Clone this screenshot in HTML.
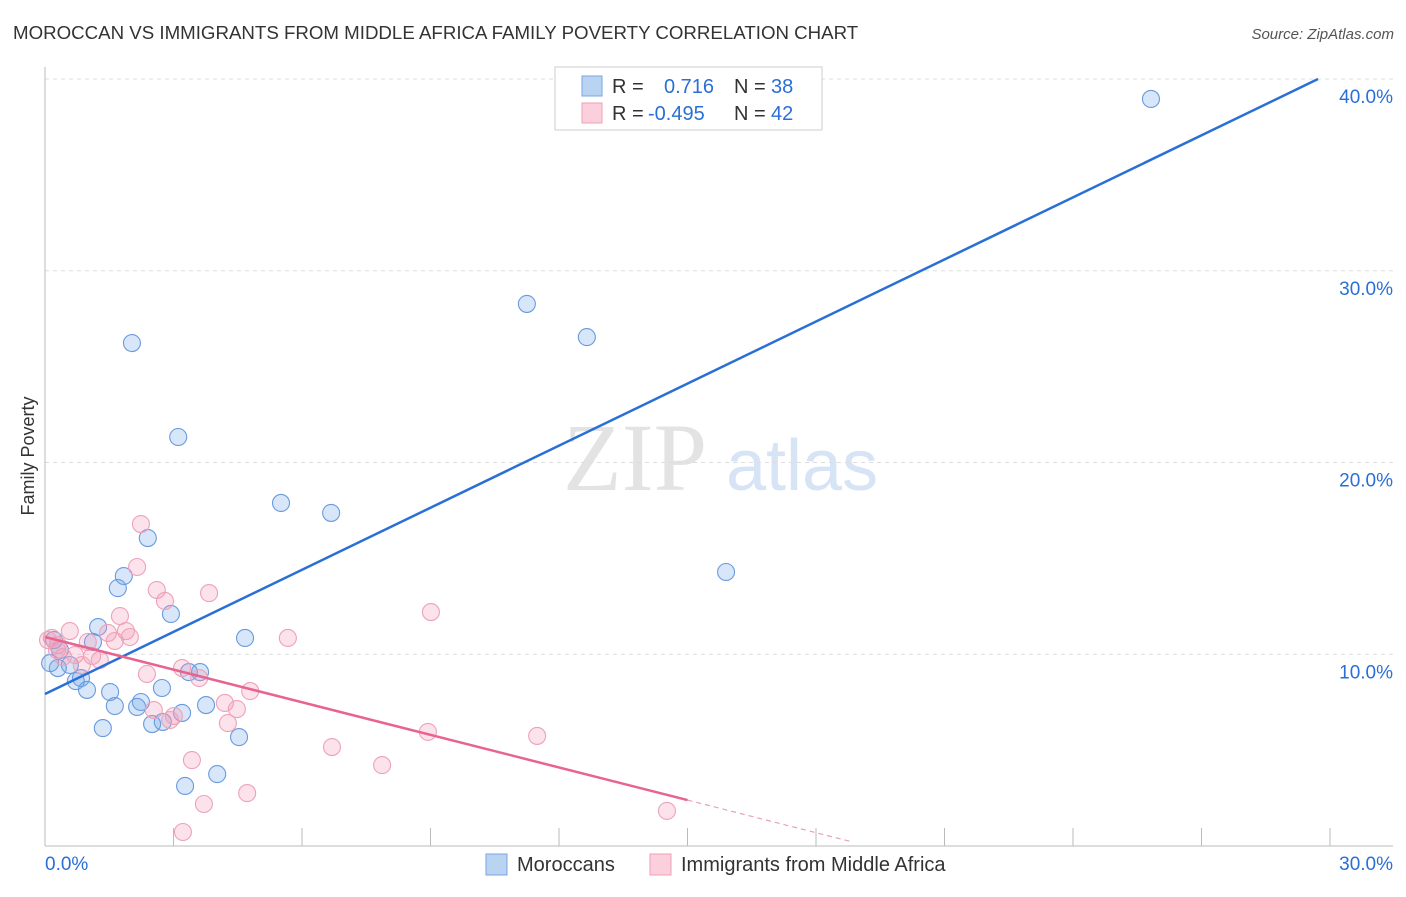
<!DOCTYPE html>
<html><head><meta charset="utf-8"><style>
body{margin:0;background:#fff;font-family:"Liberation Sans",sans-serif;}
</style></head><body>
<svg id="chart" width="1406" height="892" xmlns="http://www.w3.org/2000/svg" font-family="Liberation Sans, sans-serif">
<text x="13" y="39" font-size="18.7" fill="#333">MOROCCAN VS IMMIGRANTS FROM MIDDLE AFRICA FAMILY POVERTY CORRELATION CHART</text>
<text x="1394" y="39" font-size="15" fill="#555" text-anchor="end" font-style="italic">Source: ZipAtlas.com</text>
<text transform="translate(34,456) rotate(-90)" font-size="18" fill="#333" text-anchor="middle">Family Poverty</text>
<g>
<text x="635" y="490" font-size="96" fill="#e3e3e3" font-family="Liberation Serif, serif" text-anchor="middle">ZIP</text>
<text x="802" y="490" font-size="72" fill="#d6e4f5" text-anchor="middle">atlas</text>
</g>
<g id="grid"></g>
<g id="axes"></g>
<g id="marks"></g>
<g>
<rect x="555" y="67" width="267" height="63" fill="#fff" stroke="#ccc"/>
<rect x="582" y="76" width="20" height="20" fill="#b9d3f3" stroke="#7aa6e0"/>
<rect x="582" y="103" width="20" height="20" fill="#fbd0dc" stroke="#ef9fb8"/>
<text x="612" y="93" font-size="20" fill="#333">R =</text>
<text x="664" y="93" font-size="20" fill="#2a6fd6">0.716</text>
<text x="734" y="93" font-size="20" fill="#333">N =</text>
<text x="771" y="93" font-size="20" fill="#2a6fd6">38</text>
<text x="612" y="120" font-size="20" fill="#333">R =</text>
<text x="648" y="120" font-size="20" fill="#2a6fd6">-0.495</text>
<text x="734" y="120" font-size="20" fill="#333">N =</text>
<text x="771" y="120" font-size="20" fill="#2a6fd6">42</text>
</g>
<g>
<rect x="486" y="854" width="21" height="21" fill="#b9d3f3" stroke="#7aa6e0"/>
<text x="517" y="871" font-size="20" fill="#333">Moroccans</text>
<rect x="650" y="854" width="21" height="21" fill="#fbd0dc" stroke="#ef9fb8"/>
<text x="681" y="871" font-size="20" fill="#333">Immigrants from Middle Africa</text>
</g>
</svg>
<script>
const xTicks=[0,3,6,9,12,15,18,21,24,27,30];
const yTicks=[10,20,30,40];
const yTickLabels=["10.0%","20.0%","30.0%","40.0%"];
const xLabels=["0.0%","30.0%"];
const blueX=[25.82,11.25,12.65,2.03,3.11,5.51,6.68,2.40,15.90,1.84,1.70,2.94,1.24,4.67,1.12,0.21,0.35,0.58,0.30,0.12,0.84,0.72,0.98,1.52,2.73,3.62,3.36,2.24,1.63,2.15,3.76,3.20,2.50,2.75,1.35,4.53,4.02,3.27];
const blueY=[38.96,28.27,26.54,26.23,21.33,17.89,17.37,16.06,14.29,14.08,13.45,12.10,11.42,10.85,10.64,10.74,10.22,9.44,9.28,9.54,8.76,8.60,8.14,8.03,8.24,9.07,9.07,7.51,7.30,7.25,7.35,6.94,6.36,6.47,6.15,5.68,3.75,3.13];
const pinkX=[2.24,2.15,2.61,3.83,2.80,1.75,9.01,0.58,1.47,1.89,5.67,1.98,1.00,1.63,0.16,0.30,0.70,1.10,0.42,1.28,0.86,2.38,3.20,3.60,4.79,4.20,2.54,3.01,4.48,2.92,4.27,8.94,11.49,6.70,3.43,7.87,4.72,3.71,14.52,3.22,0.07,0.28];
const pinkY=[16.79,14.55,13.35,13.19,12.78,11.99,12.20,11.21,11.11,11.21,10.85,10.90,10.64,10.69,10.85,10.48,9.96,9.91,9.86,9.70,9.44,8.97,9.28,8.76,8.08,7.46,7.09,6.78,7.14,6.57,6.41,5.95,5.74,5.16,4.48,4.22,2.76,2.19,1.83,0.73,10.74,10.22];
const blueLine=[7.93,1.079];
const pinkLine=[10.90,-0.567];
const NS="http://www.w3.org/2000/svg";
const X=v=>45+v/30*1285, Y=v=>846-v/40*767;
function mk(p,t,a){const e=document.createElementNS(NS,t);for(const k in a)e.setAttribute(k,a[k]);p.appendChild(e);return e;}
const grid=document.getElementById('grid'),axes=document.getElementById('axes'),marks=document.getElementById('marks');
yTicks.forEach((v,i)=>{
 const l=mk(grid,'line',{x1:45,x2:1393,y1:Y(v),y2:Y(v),stroke:'#ddd','stroke-dasharray':'4,4'});
 
 
 const t=mk(axes,'text',{x:1393,y:Y(v)+24,'font-size':19,fill:'#2a6fd6','text-anchor':'end'});t.textContent=yTickLabels[i];
 
 
});
mk(axes,'line',{x1:45,x2:45,y1:67,y2:846,stroke:'#bbb'});
mk(axes,'line',{x1:45,x2:1393,y1:846,y2:846,stroke:'#bbb'});
xTicks.forEach(v=>{const l=mk(axes,'line',{x1:X(v),x2:X(v),y1:828,y2:846,stroke:'#bbb'});
 
 });
let t=mk(axes,'text',{x:45,y:870,'font-size':19,fill:'#2a6fd6'});t.textContent=xLabels[0];


t=mk(axes,'text',{x:1393,y:870,'font-size':19,fill:'#2a6fd6','text-anchor':'end'});t.textContent=xLabels[1];


blueX.forEach((x,i)=>{const c=mk(marks,'circle',{cx:X(x),cy:Y(blueY[i]),r:8.5,fill:'rgba(110,165,235,0.28)',stroke:'#6a9ade','stroke-width':1.1});
 
 });
pinkX.forEach((x,i)=>{const c=mk(marks,'circle',{cx:X(x),cy:Y(pinkY[i]),r:8.5,fill:'rgba(245,150,180,0.28)',stroke:'#eea2ba','stroke-width':1.1});
 
 });
let ln=mk(marks,'line',{x1:X(0),y1:Y(blueLine[0]),x2:X(29.72),y2:Y(blueLine[0]+blueLine[1]*29.72),stroke:'#2a6fd6','stroke-width':2.5});


ln=mk(marks,'line',{x1:X(0),y1:Y(pinkLine[0]),x2:X(15),y2:Y(pinkLine[0]+pinkLine[1]*15),stroke:'#e8638f','stroke-width':2.5});


ln=mk(marks,'line',{x1:X(15),y1:Y(pinkLine[0]+pinkLine[1]*15),x2:X(18.8),y2:Y(pinkLine[0]+pinkLine[1]*18.8),stroke:'#e8a0b8','stroke-width':1.2,'stroke-dasharray':'5,4'});


</script>
</body></html>
